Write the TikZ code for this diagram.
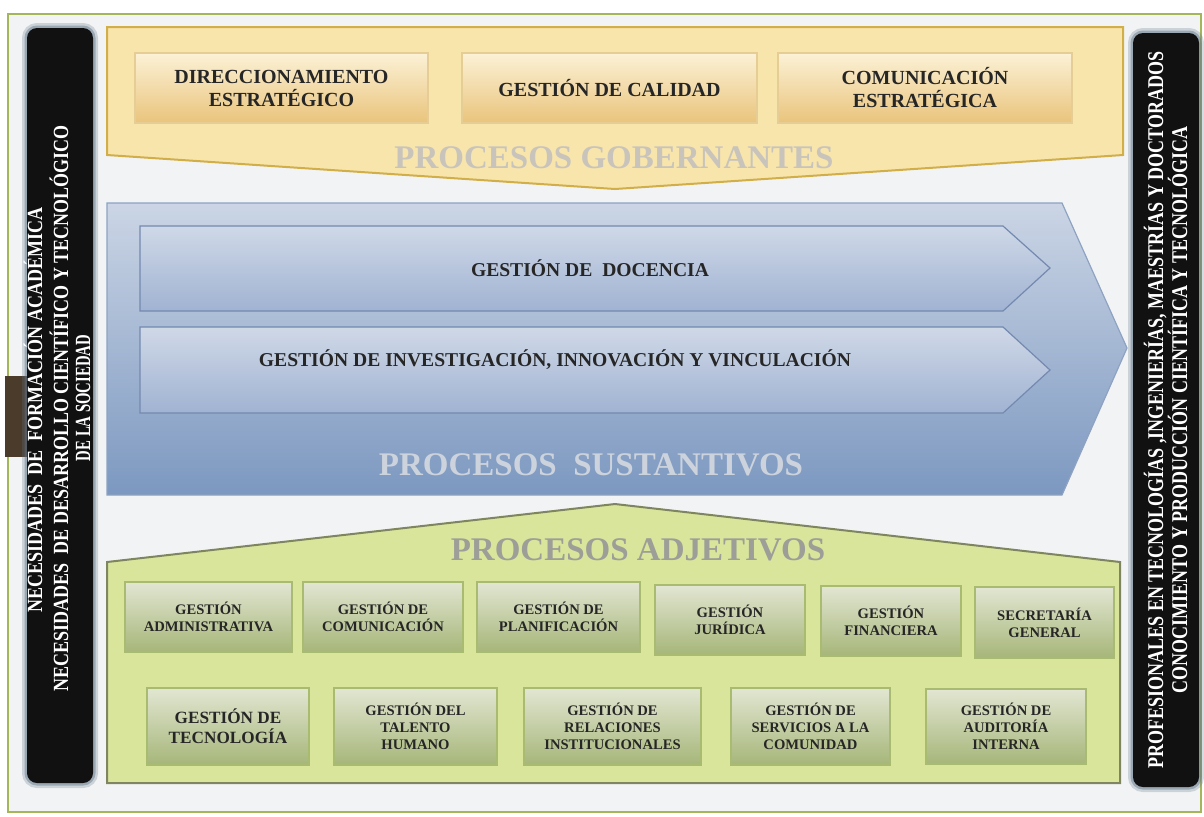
\documentclass[tikz,border=0pt]{standalone}
\usepackage{fontspec}
\setmainfont{Liberation Serif}
\usepackage{graphicx}
\definecolor{framegreen}{HTML}{A4B55A}
\definecolor{bgin}{HTML}{F2F3F4}
\definecolor{govfill}{HTML}{F8E5AC}
\definecolor{govline}{HTML}{D2AE48}
\definecolor{govtop}{HTML}{FCF1D6}
\definecolor{govbot}{HTML}{E9C47C}
\definecolor{govbline}{HTML}{E6CD95}
\definecolor{sustop}{HTML}{CBD5E5}
\definecolor{susbot}{HTML}{7C98C0}
\definecolor{susline}{HTML}{8EA2C2}
\definecolor{intop}{HTML}{CFD8E7}
\definecolor{inbot}{HTML}{A0B3D2}
\definecolor{inline}{HTML}{7489B0}
\definecolor{adjfill}{HTML}{D8E59B}
\definecolor{adjline}{HTML}{7E8560}
\definecolor{gtop}{HTML}{E2E6D2}
\definecolor{gbot}{HTML}{A6B679}
\definecolor{gline}{HTML}{A9BB70}
\definecolor{barblack}{HTML}{111111}
\definecolor{glowc}{HTML}{5E7488}
\definecolor{brownbar}{HTML}{4B3B2B}
\definecolor{txtdark}{HTML}{262626}
\definecolor{govlab}{HTML}{C8C4BC}
\definecolor{suslab}{HTML}{CDD3DC}
\definecolor{adjlab}{HTML}{9C9E97}
\begin{document}
\begin{tikzpicture}[x=0.5pt,y=-0.5pt,
  govbox/.style={draw=govbline, line width=0.6pt, top color=govtop, bottom color=govbot,
    font=\fontsize{10}{11.5}\selectfont\bfseries, text=txtdark, align=center, inner sep=1pt},
  gbox/.style={draw=gline, line width=0.6pt, top color=gtop, bottom color=gbot,
    font=\fontsize{7.3}{8.4}\selectfont\bfseries, text=txtdark, align=center, inner sep=1pt},
  inarrow/.style={draw=inline, line width=0.6pt, top color=intop, bottom color=inbot},
  intext/.style={font=\fontsize{9.8}{11}\selectfont\bfseries, text=txtdark, anchor=base},
  biglab/.style={font=\fontsize{16.5}{18}\selectfont\bfseries, anchor=base},
  bartxt/.style={rotate=90, anchor=base, text=white, font=\fontsize{9}{10}\selectfont\bfseries, inner sep=0pt},
  barglowA/.style={rounded corners=5pt, draw=glowc, line width=5pt, opacity=0.25},
  barglowB/.style={rounded corners=5pt, draw=glowc, line width=2.5pt, opacity=0.45},
  barfill/.style={rounded corners=5pt, fill=barblack}
]
\useasboundingbox (0,0) rectangle (1204,816);
\fill[white] (0,0) rectangle (1204,816);
\draw[framegreen, line width=0.8pt, fill=bgin] (8,14) rectangle (1201,812);
\fill[brownbar] (5,376) rectangle (27,457);

% left bar
\draw[barglowA] (27,28) rectangle (93,783);
\draw[barglowB] (27,28) rectangle (93,783);
\fill[barfill] (27,28) rectangle (93,783);
\node[bartxt] (l1) at (42,410) {\scalebox{1}[1.2]{NECESIDADES\ \ DE\ \ FORMACIÓN ACADÉMICA}};
\node[bartxt] (l2) at (68,408) {\scalebox{1}[1.2]{NECESIDADES\ \ DE DESARROLLO CIENTÍFICO Y TECNOLÓGICO}};
\node[bartxt] (l3) at (90,398) {\scalebox{0.82}[1.2]{DE LA SOCIEDAD}};

% right bar
\draw[barglowA] (1133,33) rectangle (1199,787);
\draw[barglowB] (1133,33) rectangle (1199,787);
\fill[barfill] (1133,33) rectangle (1199,787);
\node[bartxt] (r1) at (1163,410) {\scalebox{1}[1.25]{PROFESIONALES EN TECNOLOGÍAS ,INGENIERÍAS, MAESTRÍAS Y DOCTORADOS}};
\node[bartxt] (r2) at (1187,410) {\scalebox{1}[1.25]{CONOCIMIENTO Y PRODUCCIÓN CIENTÍFICA Y TECNOLÓGICA}};

% procesos gobernantes
\path[draw=govline, line width=1pt, fill=govfill] (107,27) -- (1123,27) -- (1123,155) -- (615,189) -- (107,155) -- cycle;
\node[govbox, minimum width=146.5pt, minimum height=35pt] (dir) at (281.5,88) {DIRECCIONAMIENTO\\ESTRATÉGICO};
\node[govbox, minimum width=147.5pt, minimum height=35pt] (cal) at (609.5,88) {GESTIÓN DE CALIDAD};
\node[govbox, minimum width=147pt, minimum height=35pt] (com) at (925,88) {COMUNICACIÓN\\ESTRATÉGICA};
\node[biglab, text=govlab] (gobl) at (614,168) {PROCESOS GOBERNANTES};

% procesos sustantivos
\path[draw=susline, line width=0.6pt, top color=sustop, bottom color=susbot] (107,203) -- (1062,203) -- (1127,348) -- (1062,495) -- (107,495) -- cycle;
\path[inarrow] (140,226) -- (1003,226) -- (1050,268) -- (1003,311) -- (140,311) -- cycle;
\path[inarrow] (140,327) -- (1003,327) -- (1050,370) -- (1003,413) -- (140,413) -- cycle;
\node[intext] (doc) at (590,276) {GESTIÓN DE\ \ DOCENCIA};
\node[intext] (inv) at (555,366) {GESTIÓN DE INVESTIGACIÓN, INNOVACIÓN Y VINCULACIÓN};
\node[biglab, text=suslab] (susl) at (591,475) {PROCESOS\ \ SUSTANTIVOS};

% procesos adjetivos
\path[draw=adjline, line width=1pt, fill=adjfill] (107,562) -- (615,504) -- (1120,562) -- (1120,783) -- (107,783) -- cycle;
\node[biglab, text=adjlab] (adjl) at (638,560) {PROCESOS ADJETIVOS};

\node[gbox, minimum width=83.5pt, minimum height=35pt] (adm) at (208.5,617) {GESTIÓN\\ADMINISTRATIVA};
\node[gbox, minimum width=80pt, minimum height=35pt] (cmu) at (383,617) {GESTIÓN DE\\COMUNICACIÓN};
\node[gbox, minimum width=81.5pt, minimum height=35pt] (pla) at (558.5,617) {GESTIÓN DE\\PLANIFICACIÓN};
\node[gbox, minimum width=75pt, minimum height=35pt] (jur) at (730,620) {GESTIÓN\\JURÍDICA};
\node[gbox, minimum width=70pt, minimum height=35pt] (fin) at (891,621) {GESTIÓN\\FINANCIERA};
\node[gbox, minimum width=69.5pt, minimum height=35.5pt] (sec) at (1044.5,622.5) {SECRETARÍA\\GENERAL};

\node[gbox, minimum width=81pt, minimum height=38.5pt, font=\fontsize{8.6}{10}\selectfont\bfseries] (tec) at (228,726.5) {GESTIÓN DE\\TECNOLOGÍA};
\node[gbox, minimum width=81.5pt, minimum height=38.5pt] (tal) at (415.5,726.5) {GESTIÓN DEL\\TALENTO\\HUMANO};
\node[gbox, minimum width=88.5pt, minimum height=38.5pt] (rel) at (612.5,726.5) {GESTIÓN DE\\RELACIONES\\INSTITUCIONALES};
\node[gbox, minimum width=79.5pt, minimum height=38.5pt] (ser) at (810.5,726.5) {GESTIÓN DE\\SERVICIOS A LA\\COMUNIDAD};
\node[gbox, minimum width=80pt, minimum height=37.5pt] (aud) at (1006,726.5) {GESTIÓN DE\\AUDITORÍA\\INTERNA};
\end{tikzpicture}
\end{document}
